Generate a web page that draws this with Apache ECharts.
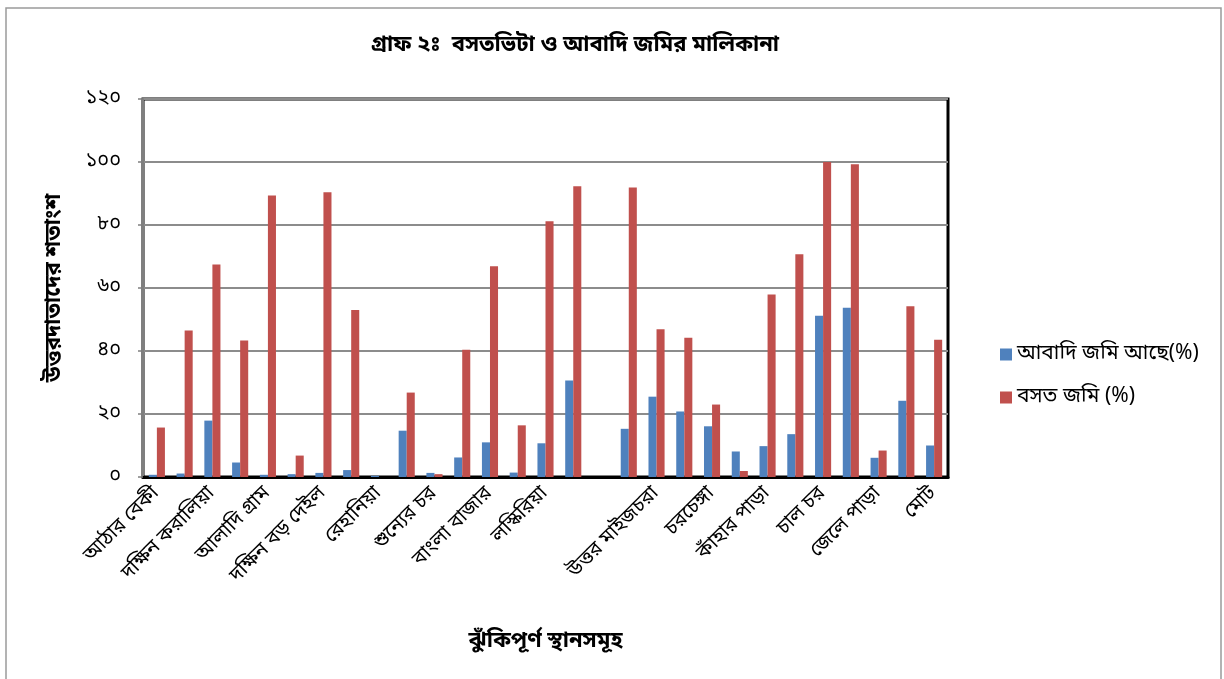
<!DOCTYPE html>
<html><head><meta charset="utf-8">
<script src="https://cdn.jsdelivr.net/npm/echarts@6/dist/echarts.min.js"></script>
<style>html,body{margin:0;padding:0;background:#fff}#c{width:1224px;height:679px}</style>
</head><body><div id="c"></div>
<script>
const categories = ['আঠার বেকী','','দক্ষিন করালিয়া','','আলাদি গ্রাম','','দক্ষিন বড় দেইল','','রেহানিয়া','','শুন্যের চর','','বাংলা বাজার','','লস্কিরিয়া','','','','উত্তর মাইজচরা','','চরচেঙ্গা','','কাঁহার পাড়া','','চাল চর','','জেলে পাড়া','','মোট'];
const abadiJomi = [0.7,1.1,17.9,4.6,0.7,0.9,1.3,2.2,0.4,14.7,1.3,6.2,11,1.4,10.7,30.6,0,15.3,25.5,20.8,16.1,8.1,9.8,13.6,51.2,53.7,6.1,24.2,10];
const bosotJomi = [15.7,46.5,67.5,43.3,89.4,6.8,90.4,53,0,26.8,0.9,40.4,66.9,16.4,81.2,92.3,0,91.9,46.9,44.2,23,1.9,57.9,70.7,100,99.3,8.4,54.2,43.6];
const yTicks = ['০','২০','৪০','৬০','৮০','১০০','১২০'];
const seriesNames = ['আবাদি জমি আছে(%)','বসত জমি (%)'];
const titleText = 'গ্রাফ ২ঃ  বসতভিটা ও আবাদি জমির মালিকানা';
const xName = 'ঝুঁকিপূর্ণ স্থানসমূহ';
const yName = 'উত্তরদাতাদের শতাংশ';

const FONT = '"Noto Sans Bengali","Noto Serif Bengali","Noto Sans","DejaVu Sans",sans-serif';
const chart = echarts.init(document.getElementById('c'), null, {renderer:'canvas'});
chart.setOption({
  animation:false,
  backgroundColor:'#fff',
  textStyle:{fontFamily:FONT,color:'#000'},
  graphic:[{type:'rect',shape:{x:6,y:8,width:1215,height:690},style:{fill:'none',stroke:'#9a9a9a',lineWidth:1.5},silent:true}],
  title:{text:titleText,left:570,top:31,textAlign:'center',textStyle:{fontFamily:FONT,fontSize:22,fontWeight:'bold',color:'#000'}},
  legend:{orient:'vertical',left:995,top:339,itemWidth:12,itemHeight:12,itemGap:22,icon:'rect',
    textStyle:{fontFamily:FONT,fontSize:21,color:'#000'},data:seriesNames},
  grid:{left:143,top:99,width:805,height:378,show:true,borderColor:'#000',borderWidth:3,backgroundColor:'transparent'},
  xAxis:{type:'category',data:categories,
    name:xName,nameLocation:'middle',nameGap:155,nameTextStyle:{fontFamily:FONT,fontSize:22,fontWeight:'bold',color:'#000'},
    axisLine:{lineStyle:{color:'#000',width:3}},axisTick:{show:false},
    axisLabel:{interval:1,rotate:45,fontFamily:FONT,fontSize:20,color:'#000',margin:14}},
  yAxis:{type:'value',min:0,max:120,interval:20,
    name:yName,nameLocation:'middle',nameGap:76,nameTextStyle:{fontFamily:FONT,fontSize:22,fontWeight:'bold',color:'#000'},
    axisLine:{show:true,lineStyle:{color:'#7f7f7f',width:2}},
    axisTick:{show:true,length:5,lineStyle:{color:'#7f7f7f',width:1.5}},
    splitLine:{lineStyle:{color:'#8c8c8c',width:2}},
    axisLabel:{fontFamily:FONT,fontSize:20,color:'#000',margin:22,formatter:(v)=>yTicks[Math.round(v/20)]}},
  series:[
    {name:seriesNames[0],type:'bar',data:abadiJomi,barGap:'0%',barCategoryGap:'42%',itemStyle:{color:'#4F81BD'}},
    {name:seriesNames[1],type:'bar',data:bosotJomi,barGap:'0%',barCategoryGap:'42%',itemStyle:{color:'#C0504D'}}
  ]
});
</script></body></html>
